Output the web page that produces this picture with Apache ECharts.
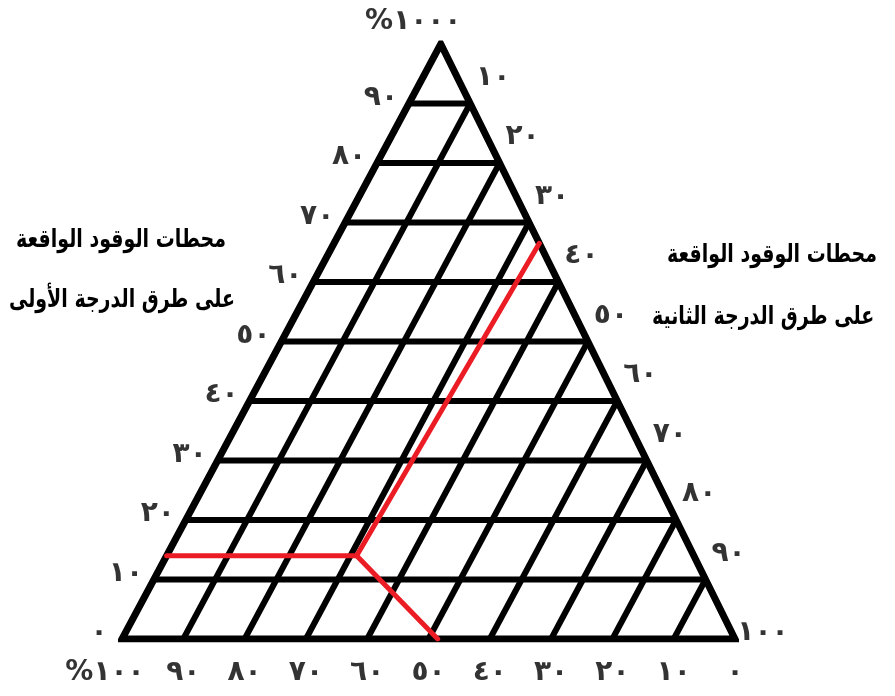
<!DOCTYPE html>
<html>
<head>
<meta charset="utf-8">
<script src="https://cdn.jsdelivr.net/npm/echarts@6/dist/echarts.min.js"></script>
<style>
html,body{margin:0;padding:0;background:#fff;}
#chart{width:895px;height:696px;}
</style>
</head>
<body>
<div id="chart"></div>
<script>
// Grid levels (percent) for the ternary diagram
const gridLevels = [10, 20, 30, 40, 50, 60, 70, 80, 90];
const tickLevels = [0, 10, 20, 30, 40, 50, 60, 70, 80, 90, 100];
// Left edge labels (top component T, 0 at bottom-left to 100 at apex)
const leftLabels = ['٠', '١٠', '٢٠', '٣٠', '٤٠', '٥٠', '٦٠', '٧٠', '٨٠', '٩٠', '%١٠٠'];
// Right edge labels (component R, 0 at apex to 100 at bottom-right)
const rightLabels = ['٠', '١٠', '٢٠', '٣٠', '٤٠', '٥٠', '٦٠', '٧٠', '٨٠', '٩٠', '١٠٠'];
// Bottom edge labels (component L, 100 at bottom-left to 0 at bottom-right)
const bottomLabels = ['%١٠٠', '٩٠', '٨٠', '٧٠', '٦٠', '٥٠', '٤٠', '٣٠', '٢٠', '١٠', '٠'];
// Red reading lines: centre point and three ends, as [T, R]
const readingPoint = [14, 31];
const readingEnds = [[14, 0], [66.5, 33.5], [0, 51.5]];
// Side titles
const leftTitle = ['محطات الوقود الواقعة', 'على طرق الدرجة الأولى'];
const rightTitle = ['محطات الوقود الواقعة', 'على طرق الدرجة الثانية'];

const APEX_X = 52; // horizontal position of apex on the base scale
function tern(T, R) { return [R + T * APEX_X / 100, T]; }

const series = [];
const black = '#000';
gridLevels.forEach(t => {
  series.push({type: 'line', data: [tern(t, 0), tern(t, 100 - t)], symbol: 'none', silent: true,
    lineStyle: {color: black, width: 6, cap: 'butt'}, z: 2});
});
gridLevels.forEach(r => {
  series.push({type: 'line', data: [tern(0, r), tern(100 - r, r)], symbol: 'none', silent: true,
    lineStyle: {color: black, width: 6, cap: 'butt'}, z: 2});
});
series.push({type: 'line', data: [tern(0, 0), tern(0, 100), tern(100, 0), tern(0, 0), tern(0, 100)],
  symbol: 'none', silent: true, lineStyle: {color: black, width: 7, join: 'miter', cap: 'butt'}, z: 3});
readingEnds.forEach(e => {
  series.push({type: 'line', data: [tern(readingPoint[0], readingPoint[1]), tern(e[0], e[1])], symbol: 'none', silent: true,
    lineStyle: {color: '#ec1c24', width: 5, cap: 'round'}, z: 5});
});

const labelFont = {fontFamily: 'DejaVu Sans', fontWeight: 'bold', fontSize: 28, color: '#000'};
function labelSeries(points) {
  return {type: 'scatter', symbolSize: 1, symbol: 'circle', itemStyle: {color: 'rgba(0,0,0,0)'}, silent: true, z: 6,
    data: points.map(p => ({value: p.v, label: Object.assign({show: true, position: 'inside', formatter: p.t, offset: p.o, align: 'center', verticalAlign: 'middle'}, labelFont)}))};
}
const leftPts = tickLevels.map((t, i) => ({v: tern(t, 0), t: leftLabels[i],
  o: t === 100 ? [-36, -22] : (t === 0 ? [-23, -6] : [-28, -6])}));
const rightPts = tickLevels.map((r, i) => ({v: tern(100 - r, r), t: rightLabels[i],
  o: r === 0 ? [12, -22] : (r === 100 ? [28, -6] : [23, -26])}));
const bottomPts = tickLevels.map((l, i) => ({v: tern(0, 100 - l), t: bottomLabels[10 - l / 10],
  o: l === 100 ? [-17, 34] : [0, 34]}));
series.push(labelSeries(leftPts), labelSeries(rightPts), labelSeries(bottomPts));

const titleFont = 'bold 19px "DejaVu Sans"';
function titleText(t, x, y) {
  return {type: 'text', x: x, y: y, scaleY: 1.35, style: {text: t, font: titleFont, fill: '#000', align: 'center', verticalAlign: 'middle'}};
}
const chart = echarts.init(document.getElementById('chart'), null, {renderer: 'canvas'});
chart.setOption({
  animation: false,
  backgroundColor: '#fff',
  grid: {left: 122, right: 160, top: 44, bottom: 57},
  xAxis: {type: 'value', min: 0, max: 100, show: false},
  yAxis: {type: 'value', min: 0, max: 100, show: false},
  graphic: [
    titleText(leftTitle[0], 121, 240),
    titleText(leftTitle[1], 122, 300),
    titleText(rightTitle[0], 772, 255),
    titleText(rightTitle[1], 763, 317)
  ],
  series: series
});
</script>
</body>
</html>
